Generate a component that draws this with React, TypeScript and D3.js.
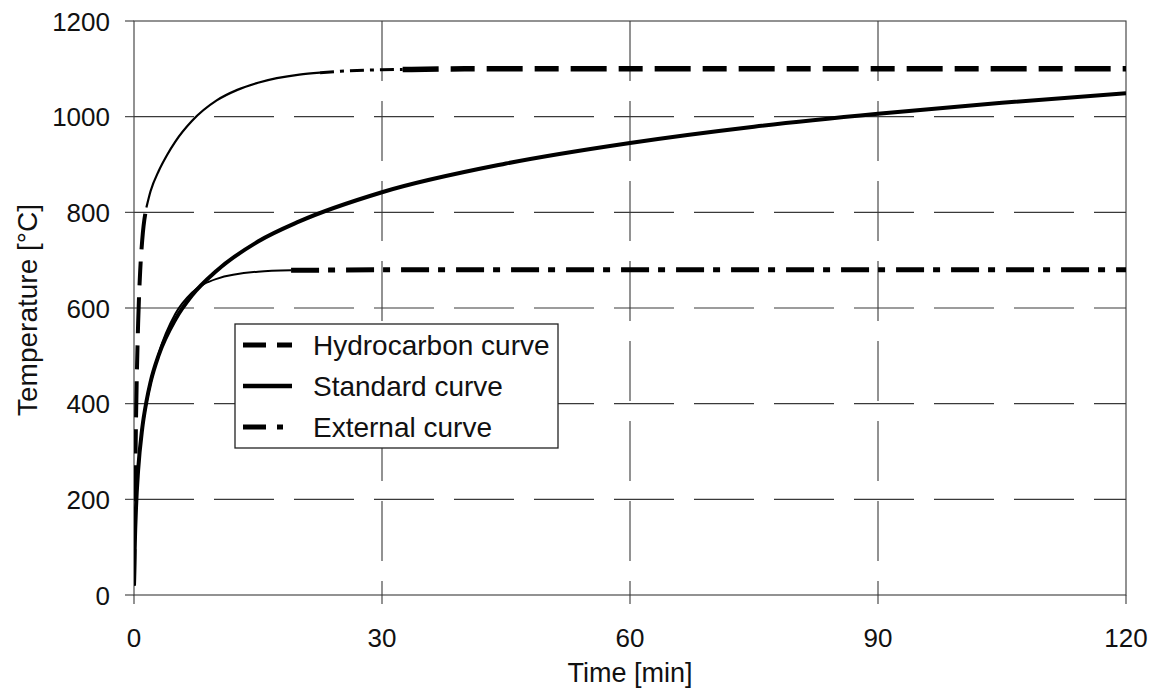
import React from "react";
import * as d3 from "d3";

// Time axis (minutes) and temperatures (°C) for the three fire curves
const hydroTime = [0, 0.25, 0.5, 0.75, 1, 1.5, 2, 3, 4, 5, 7, 10, 12.5, 15, 20, 22.5, 25, 30, 32.5, 40, 60, 90, 120];
const hydroTemp = [20, 373, 568, 678, 743, 810, 844, 887, 920, 948, 991, 1034, 1056, 1071, 1088, 1092, 1095, 1098, 1098.5, 1100, 1100, 1100, 1100];

const standardTime = [0, 0.1, 0.25, 0.5, 1, 1.5, 2, 3, 5, 7, 10, 15, 20, 30, 45, 60, 75, 90, 105, 120];
const standardTemp = [20, 108, 185, 261, 349, 404, 445, 502, 576, 626, 678, 739, 781, 842, 902, 945, 979, 1006, 1029, 1049];

const externalTime = [0, 0.25, 0.5, 1, 1.5, 2, 3, 5, 7, 10, 15, 19, 20, 30, 60, 90, 120];
const externalTemp = [20, 182, 263, 346, 399, 441, 506, 588, 632, 661, 676, 679, 679, 680, 680, 680, 680];

const xTicks = [0, 30, 60, 90, 120];
const yTicks = [0, 200, 400, 600, 800, 1000, 1200];

const legendLabels = ["Hydrocarbon curve", "Standard curve", "External curve"];

const W = 1151;
const H = 690;
const plot = { left: 134, right: 1126, top: 21, bottom: 595 };
const FONT = "'Liberation Sans', Arial, Helvetica, sans-serif";

type Pt = { t: number; v: number };

function zip(ts: number[], vs: number[]): Pt[] {
  return ts.map((t, i) => ({ t, v: vs[i] }));
}

function slice(pts: Pt[], from: number, to: number): Pt[] {
  return pts.filter((p) => p.t >= from && p.t <= to);
}

export default function App() {
  const x = d3.scaleLinear().domain([0, 120]).range([plot.left, plot.right]);
  const y = d3.scaleLinear().domain([0, 1200]).range([plot.bottom, plot.top]);

  const line = d3
    .line<Pt>()
    .x((d) => x(d.t))
    .y((d) => y(d.v))
    .curve(d3.curveMonotoneX);

  const hydro = zip(hydroTime, hydroTemp);
  const standard = zip(standardTime, standardTemp);
  const external = zip(externalTime, externalTemp);

  const gridColor = "#3a3a3a";
  const hcDash = "36,12,24,12";
  const extDash = "28,9,7,11";

  const legendRows = [
    { label: legendLabels[0], dash: "23,11,14,0", width: 5 },
    { label: legendLabels[1], dash: undefined, width: 4.5 },
    { label: legendLabels[2], dash: "23,11,6,30", width: 5 },
  ];

  return (
    <svg
      width={W}
      height={H}
      style={{ position: "absolute", left: 0, top: 0, background: "#fff" }}
      fontFamily={FONT}
    >
      <defs>
        <clipPath id="plotClip">
          <rect x={plot.left} y={plot.top - 4} width={plot.right - plot.left} height={plot.bottom - plot.top + 4} />
        </clipPath>
      </defs>

      {/* dashed grid */}
      {yTicks
        .filter((v) => v > 0 && v < 1200)
        .map((v) => (
          <line
            key={`gy${v}`}
            x1={plot.left}
            x2={plot.right}
            y1={y(v)}
            y2={y(v)}
            stroke={gridColor}
            strokeWidth={1.1}
            strokeDasharray="60,20"
          />
        ))}
      {xTicks
        .filter((v) => v > 0 && v < 120)
        .map((v) => (
          <line
            key={`gx${v}`}
            x1={x(v)}
            x2={x(v)}
            y1={plot.top}
            y2={plot.bottom}
            stroke={gridColor}
            strokeWidth={1.1}
            strokeDasharray="60,20"
          />
        ))}

      {/* frame */}
      <rect
        x={plot.left}
        y={plot.top}
        width={plot.right - plot.left}
        height={plot.bottom - plot.top}
        fill="none"
        stroke={gridColor}
        strokeWidth={1.1}
      />

      {/* ticks and labels */}
      {yTicks.map((v) => (
        <g key={`ty${v}`}>
          <line x1={plot.left - 9} x2={plot.left} y1={y(v)} y2={y(v)} stroke={gridColor} strokeWidth={1.1} />
          <text x={110} y={y(v) + 9.5} textAnchor="end" fontSize={26} fill="#111">
            {v}
          </text>
        </g>
      ))}
      {xTicks.map((v) => (
        <g key={`tx${v}`}>
          <line x1={x(v)} x2={x(v)} y1={plot.bottom} y2={plot.bottom + 9} stroke={gridColor} strokeWidth={1.1} />
          <text x={x(v)} y={647} textAnchor="middle" fontSize={26} fill="#111">
            {v}
          </text>
        </g>
      ))}

      <text x={(plot.left + plot.right) / 2} y={682} textAnchor="middle" fontSize={27} fill="#111">
        Time [min]
      </text>
      <text
        transform={`translate(37, ${(plot.top + plot.bottom) / 2 + 2}) rotate(-90)`}
        textAnchor="middle"
        fontSize={28}
        fill="#111"
      >
        Temperature [°C]
      </text>

      {/* curves */}
      <g clipPath="url(#plotClip)" fill="none" stroke="#000" strokeLinejoin="round">
        {/* standard curve */}
        <path d={line(standard) ?? ""} strokeWidth={4} />

        {/* external curve */}
        <path d={line(slice(external, 0, 19)) ?? ""} strokeWidth={2} />
        <path d={line(slice(external, 19, 120)) ?? ""} strokeWidth={5} strokeDasharray={extDash} />

        {/* hydrocarbon curve */}
        <path d={line(slice(hydro, 0, 1.5)) ?? ""} strokeWidth={4} strokeDasharray={hcDash} />
        <path d={line(slice(hydro, 1.5, 22.5)) ?? ""} strokeWidth={2.2} />
        <path d={line(slice(hydro, 22.5, 32.5)) ?? ""} strokeWidth={3} strokeDasharray="14,6,4,6" />
        <path d={line(slice(hydro, 32.5, 120)) ?? ""} strokeWidth={5.5} strokeDasharray={hcDash} />
      </g>

      {/* legend */}
      <g>
        <rect x={235} y={324} width={323} height={124} fill="#fff" stroke="#222" strokeWidth={1.3} />
        {legendRows.map((r, i) => {
          const cy = 345 + i * 41;
          return (
            <g key={r.label}>
              <line
                x1={243}
                x2={292}
                y1={cy}
                y2={cy}
                stroke="#000"
                strokeWidth={r.width}
                strokeDasharray={r.dash}
              />
              <text x={313} y={cy + 10} fontSize={28} fill="#111">
                {r.label}
              </text>
            </g>
          );
        })}
      </g>
    </svg>
  );
}
